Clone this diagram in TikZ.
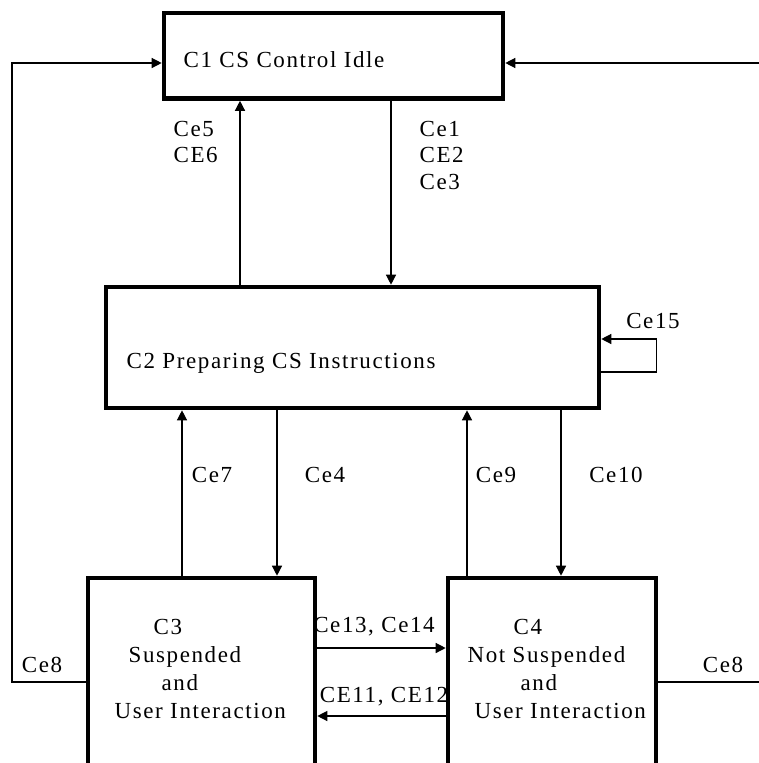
\documentclass[tikz,border=0pt]{standalone}
\usepackage{fontspec}
\setmainfont{Liberation Serif}[LetterSpace=7]
\usetikzlibrary{arrows.meta}

\begin{document}
\begin{tikzpicture}[x=1pt,y=-1pt,line width=1.3pt,
    box/.style={draw,line width=4.6pt,inner sep=0pt},
    lbl/.style={font=\fontsize{23}{26.5}\selectfont,inner sep=0pt},
    txt/.style={lbl,anchor=base west,align=left,font=\fontsize{23}{28}\selectfont},
    >={Triangle[length=10pt,width=10pt]}]
    		\clip (0,0) rectangle (759,763);
    		\node[box,minimum width=339pt,minimum height=85.5pt] (c1) at (333.5,55.75) {};
    		\node[box,minimum width=493pt,minimum height=121pt] (c2) at (352.5,347.5) {};
    		\node[box,minimum width=227pt,minimum height=222pt] (c3) at (201.5,689) {};
    		\node[box,minimum width=208pt,minimum height=222pt] (c4) at (552,689) {};
    		\node[txt] (t1) at (183,67) {C1 CS Control Idle};
    		\node[txt] (t2) at (126,368) {C2 Preparing CS Instructions};
    		\node[txt] (t3) at (114,718) {\hspace*{39pt}C3\\\hspace*{14pt}Suspended\\\hspace*{47pt}and\\User Interaction};
    		\node[txt] (t4) at (467,718) {\hspace*{46pt}C4\\Not Suspended\\\hspace*{53pt}and\\\hspace*{7pt}User Interaction};
    		\foreach \f/\dx/\t [count=\i] in {c2.north/-112.5/c1.south, c1.south/57.5/c2.north,
    			c3.north/-19.5/c2.south, c2.south/-75.5/c3.north,
    			c4.north/-85/c2.south, c2.south/208.5/c4.north}
    		{
    			\coordinate (v\i) at ([xshift=\dx pt]\f);
    			\draw[->] (v\i) -- (v\i |- \t);
    		}
    		\coordinate (lp) at (12,63);
    		\coordinate (rp) at (759,63);
    		\coordinate (rq) at (759,682);
    		\draw[->] ([yshift=7pt]c3.west) -| (lp) -- ([yshift=-7.25pt]c1.west);
    		\draw[->] (rp) -- ([yshift=-7.25pt]c1.east);
    		\draw ([yshift=7pt]c4.east) -- (rq);
    		\draw[->] ([yshift=-24.5pt]c2.east) -- ++(55,0) |- ([yshift=8.5pt]c2.east);
    		\coordinate (h1) at ([yshift=41pt]c3.east);
    		\coordinate (h2) at ([yshift=-27pt]c4.west);
    		\draw[->] (h1) -- (h1 -| c4.west);
    		\draw[->] (h2) -- (h2 -| c3.east);
    		\node[lbl,align=left,anchor=base west] (l5) at (173,162.5) {Ce5\\CE6};
    		\node[lbl,align=left,anchor=base west] (l1) at (419,189) {Ce1\\CE2\\Ce3};
    		\foreach \t/\x/\y in {Ce7/212/475,Ce4/325/475,Ce9/496/475,Ce10/616/475,Ce15/653/321}
    			\node[lbl] (l\t) at (\x,\y) {\t};
    		\node[lbl] (l8a) at (42,665) {Ce8};
    		\node[lbl] (l8b) at (723,665) {Ce8};
    		\node[lbl] (l13) at (374,627) {Ce13, Ce14};
    		\node[lbl] (l11) at (384,697) {CE11, CE12};
    		\end{tikzpicture}
\end{document}
